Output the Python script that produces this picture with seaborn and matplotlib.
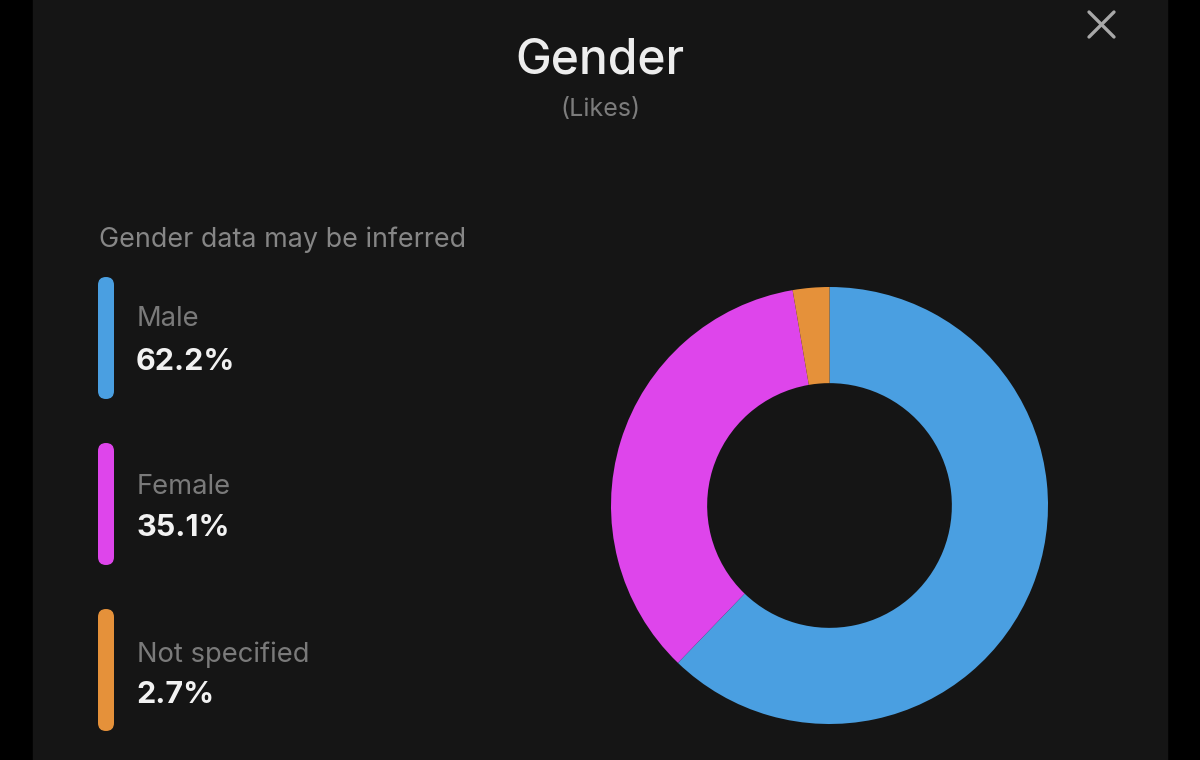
import matplotlib
matplotlib.use("Agg")
import matplotlib.pyplot as plt
import seaborn as sns
from matplotlib.patches import FancyBboxPatch, Rectangle

# data
categories = ["Male", "Female", "Not specified"]
shares = [62.2, 35.1, 2.7]
colors = ["#4A9FE1", "#DE45EB", "#E5913A"]

title = "Gender"
subtitle = "(Likes)"
note = "Gender data may be inferred"

sns.set_theme(style="dark")
plt.rcParams['font.family'] = ['Inter', 'DejaVu Sans']

bg = "#000000"
panel = "#151515"
palette = sns.color_palette(colors)

fig = plt.figure(figsize=(12, 7.6), dpi=100, facecolor=bg)

# overlay axes in pixel coordinates (y down), same aspect as the figure
ax_bg = fig.add_axes([0, 0, 1, 1])
ax_bg.set_xlim(0, 1200)
ax_bg.set_ylim(760, 0)
ax_bg.axis("off")
ax_bg.add_patch(Rectangle((33, -5), 1134, 770, color=panel, zorder=0))

# header
ax_bg.text(600, 73, title, ha="center", va="baseline", fontsize=34.5,
           fontweight="medium", color="#EDEDED")
ax_bg.text(600, 116, subtitle, ha="center", va="baseline", fontsize=18,
           color="#7C7C7C")
# close icon
ax_bg.plot([1089, 1114], [12, 37], color="#A8A8A8", lw=2.4, solid_capstyle="round")
ax_bg.plot([1089, 1114], [37, 12], color="#A8A8A8", lw=2.4, solid_capstyle="round")

ax_bg.text(99, 247, note, ha="left", va="baseline", fontsize=19.4, color="#868686")

# legend
for i, (cat, val) in enumerate(zip(categories, shares)):
    top = 277 + i * 166
    ax_bg.add_patch(FancyBboxPatch((98, top), 16, 122,
                                   boxstyle="round,pad=0,rounding_size=8",
                                   facecolor=palette[i], edgecolor="none"))
    ax_bg.text(137, 326 + i * 168, cat, ha="left", va="baseline",
               fontsize=19.7, color="#7A7A7A")
    ax_bg.text(136, 370 + i * 166.5, f"{val}%", ha="left", va="baseline",
               fontsize=22, fontweight="bold", color="#F2F2F2")

# donut
ax = fig.add_axes([611 / 1200, 36 / 760, 437 / 1200, 437 / 760])
ax.pie(shares, colors=palette, startangle=90, counterclock=False, radius=1,
       wedgeprops=dict(width=0.44, edgecolor="none"))
ax.set_xlim(-1, 1)
ax.set_ylim(-1, 1)
ax.set_aspect("equal")
ax.axis("off")

fig.savefig("out.png", dpi=100, facecolor=bg)
